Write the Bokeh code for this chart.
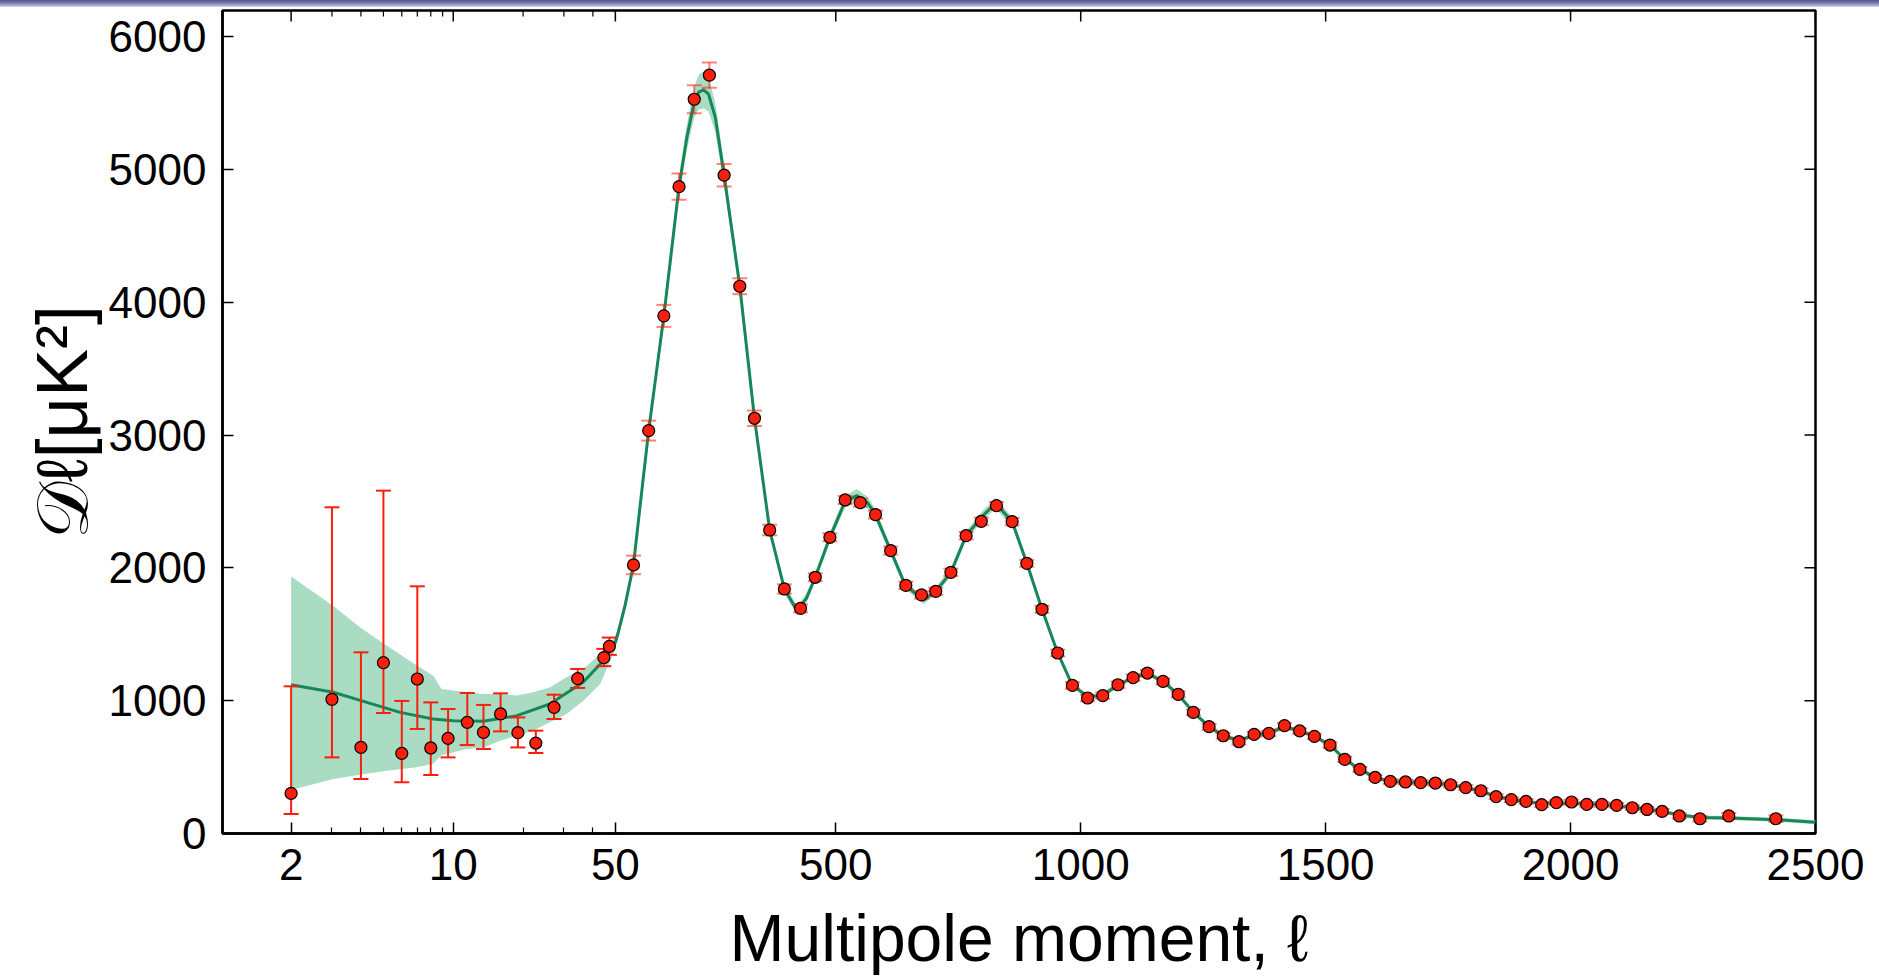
import numpy as np
from bokeh.plotting import figure
from bokeh.models import ColumnDataSource, FixedTicker, Range1d, Div
from bokeh.layouts import column
from bokeh.embed import file_html
from bokeh.resources import INLINE

# ---------------- data ----------------
# low-ell points (log part of the axis), asymmetric error bars
lowl_ell = [2, 3, 4, 5, 6, 7, 8, 9.5, 11.5, 13.5, 16, 19, 22.7, 27.2, 34.4, 44.6, 47.1]
lowl_D = [302, 1010, 648, 1286, 603, 1163, 644, 716, 837, 761, 900, 759, 681, 950, 1166, 1324, 1409]
lowl_up = [1108, 2456, 1364, 2581, 998, 1861, 987, 937, 1058, 968, 1055, 874, 774, 1045, 1239, 1390, 1475]
lowl_dn = [147, 573, 410, 907, 385, 787, 440, 573, 666, 636, 769, 648, 606, 862, 1096, 1260, 1345]

# high-ell binned points (linear part of the axis), symmetric errors
hl_ell = [87, 118, 149, 180, 211, 242, 272, 304, 334, 365, 395, 428, 458, 488, 519, 550, 581, 612,
          643, 675, 704, 735, 766, 797, 828, 860, 890, 921, 953, 983, 1014, 1045, 1076, 1107, 1136,
          1168, 1199, 1230, 1262, 1291, 1323, 1354, 1384, 1416, 1447, 1477, 1509, 1539, 1570, 1601,
          1632, 1663, 1694, 1724, 1755, 1786, 1817, 1848, 1879, 1909, 1941, 1971, 2002, 2033, 2064,
          2094, 2126, 2156, 2187, 2222, 2264, 2323, 2419]
hl_D = [2022, 3033, 3897, 4870, 5528, 5709, 4956, 4120, 3126, 2285, 1841, 1695, 1929, 2230, 2511, 2491,
        2401, 2130, 1868, 1796, 1823, 1966, 2242, 2350, 2468, 2348, 2034, 1688, 1359, 1115, 1020, 1038,
        1120, 1173, 1208, 1145, 1047, 912, 804, 736, 691, 746, 754, 812, 772, 731, 666, 558, 483, 422,
        392, 388, 383, 380, 367, 345, 322, 277, 255, 242, 217, 232, 237, 219, 219, 212, 194, 181, 166,
        132, 111, 132, 111]
hl_err = [70, 75, 83, 98, 105, 95, 85, 60, 58, 40, 35, 30, 30, 30, 30, 30, 30, 30,
          28, 28, 28, 28, 28, 28, 28, 28, 26, 26, 25, 25, 24, 24, 24, 24, 24,
          22, 22, 22, 22, 22, 22, 20, 20, 20, 20, 20, 20, 20, 18, 18,
          18, 18, 18, 18, 18, 18, 18, 18, 18, 18, 18, 18, 18, 18, 18,
          18, 18, 18, 18, 20, 20, 22, 24]

# best-fit theory curve
th_ell = [2, 3.04, 4.24, 5.9, 8.2, 10, 13.5, 18.8, 26.1, 36.3, 44.4, 50, 56, 70, 87, 100, 118, 149, 180,
          196, 211, 220, 230, 240, 254, 272, 304, 334, 365, 395, 421, 440, 458, 488, 519, 543, 565, 581,
          612, 642, 679, 704, 735, 766, 797, 826, 860, 890, 921, 953, 983, 1017, 1045, 1076, 1106, 1136,
          1168, 1199, 1230, 1262, 1291, 1323, 1354, 1384, 1416, 1447, 1477, 1509, 1539, 1570, 1601, 1632,
          1663, 1694, 1724, 1755, 1786, 1817, 1848, 1879, 1909, 1940, 1971, 2002, 2033, 2064, 2094, 2125,
          2156, 2187, 2222, 2264, 2323, 2419, 2500]
th_D = [1120, 1063, 987, 912, 862, 849, 845, 887, 975, 1138, 1301, 1440, 1516, 1720, 2022, 2450, 3033,
        3897, 4870, 5242, 5505, 5581, 5599, 5568, 5392, 4956, 4120, 3126, 2285, 1841, 1678, 1770, 1929,
        2230, 2500, 2544, 2490, 2401, 2130, 1868, 1758, 1823, 1966, 2242, 2380, 2486, 2348, 2034, 1688,
        1359, 1115, 1025, 1045, 1115, 1175, 1205, 1145, 1047, 912, 804, 736, 700, 740, 760, 800, 775, 731,
        666, 558, 483, 422, 392, 388, 383, 378, 367, 345, 318, 280, 255, 240, 228, 228, 230, 222, 216, 208,
        196, 182, 165, 140, 121, 117, 104, 84]
# half width of the shaded (cosmic-variance) band around the theory curve, for ell > 50
th_hw = [0, 0, 0, 0, 0, 0, 0, 0, 0, 0, 0, 0, 45, 45, 45, 50, 55, 65, 80,
         95, 115, 130, 140, 130, 110, 85, 65, 50, 40, 35, 35, 35, 35, 38, 45, 50, 45, 40,
         35, 30, 30, 30, 32, 35, 38, 40, 35, 30, 25, 22, 20, 18, 18, 18, 18, 18,
         18, 18, 18, 18, 18, 18, 18, 18, 18, 16, 16, 16, 15, 15, 15, 15,
         15, 15, 15, 15, 15, 15, 15, 15, 15, 15, 15, 15, 15, 15, 15, 15,
         15, 15, 15, 15, 15, 15, 15]

# shaded band at low ell
band_ell = [2, 3.04, 3.96, 5, 6.97, 8.2, 8.9, 11.43, 13.5, 15.9, 18.8, 22.1, 26.1, 30.8, 36.4, 43, 50]
band_hi = [1934, 1713, 1553, 1430, 1265, 1188, 1088, 1063, 1050, 1050, 1038, 1063, 1100, 1176, 1239, 1352, 1477]
band_lo = [328, 410, 443, 468, 498, 525, 590, 636, 648, 699, 736, 774, 837, 900, 1000, 1126, 1389]

x_major = [2, 10, 50, 500, 1000, 1500, 2000, 2500]
x_major_labels = ["2", "10", "50", "500", "1000", "1500", "2000", "2500"]
x_minor = [3, 4, 5, 6, 7, 8, 9, 20, 30, 40]
y_major = [0, 1000, 2000, 3000, 4000, 5000, 6000]

# ---------------- hybrid axis: log below ell=50, linear above ----------------
SPLIT = 50.0
DECADE = 473.5  # linear-axis units spanned by one decade of the log part


def xpos(ell):
    ell = np.asarray(ell, dtype=float)
    return np.where(ell >= SPLIT, ell, SPLIT + np.log10(ell / SPLIT) * DECADE)


RED = "#f8200c"
GREEN = "#17875a"
BAND = "#a9dcc2"
FONT = "Liberation Sans"
MAJ_TICK, MIN_TICK = 11, 6

W, H_STRIP = 1879, 7
H = 978 - H_STRIP

X0, X1, Y0, Y1 = -752, 2500, 0, 6196
p = figure(width=W, height=H, output_backend="svg", toolbar_location=None,
           x_range=Range1d(X0, X1), y_range=Range1d(Y0, Y1),
           min_border_left=222, min_border_right=64, min_border_top=3, min_border_bottom=145)
p.grid.visible = False
p.outline_line_color = "black"
p.outline_line_width = 2.5
p.background_fill_color = "white"
p.border_fill_color = "white"

# band
th_x = xpos(th_ell)
hi_mask = np.asarray(th_ell) > SPLIT
bx = np.concatenate([xpos(band_ell), th_x[hi_mask]])
blo = np.concatenate([band_lo, (np.asarray(th_D) - np.asarray(th_hw))[hi_mask]])
bhi = np.concatenate([band_hi, (np.asarray(th_D) + np.asarray(th_hw))[hi_mask]])
p.varea(x=bx, y1=blo, y2=bhi, fill_color=BAND, fill_alpha=1.0)

# theory line
p.line(th_x, th_D, line_color=GREEN, line_width=3)

# error bars (bars + caps), drawn as glyphs so that they sit above the band and below the points
low_src = ColumnDataSource(dict(x=xpos(lowl_ell), y=lowl_D, up=lowl_up, dn=lowl_dn))
hl_src = ColumnDataSource(dict(x=xpos(hl_ell), y=hl_D,
                               up=np.asarray(hl_D) + np.asarray(hl_err),
                               dn=np.asarray(hl_D) - np.asarray(hl_err)))
for src, alpha in ((low_src, 1.0), (hl_src, 0.55)):
    p.segment(x0="x", y0="dn", x1="x", y1="up", source=src, line_color=RED, line_width=2, line_alpha=alpha)
    for end in ("up", "dn"):
        p.scatter(x="x", y=end, source=src, marker="dash", size=15, line_color=RED,
                  line_width=2, line_alpha=alpha)

# points
p.scatter("x", "y", source=low_src, size=12, fill_color=RED, line_color="black", line_width=1.2)
p.scatter("x", "y", source=hl_src, size=12, fill_color=RED, line_color="black", line_width=1.2)

# axes
xmaj = [float(v) for v in xpos(x_major)]
xmin = [float(v) for v in xpos(x_minor)]


def style_axis(ax, ticker):
    ax.ticker = ticker
    ax.axis_line_color = "black"
    ax.axis_line_width = 2.5
    ax.major_tick_in = MAJ_TICK
    ax.major_tick_out = 0
    ax.minor_tick_in = MIN_TICK
    ax.minor_tick_out = 0
    ax.major_tick_line_width = 1.5
    ax.minor_tick_line_width = 1.2
    ax.major_tick_line_color = "black"
    ax.minor_tick_line_color = "black"
    ax.major_label_text_font = FONT
    ax.major_label_text_font_size = "44px"
    ax.major_label_text_color = "black"
    ax.axis_label_text_font = FONT
    ax.axis_label_text_font_style = "normal"
    ax.axis_label_text_color = "black"


xa = p.xaxis[0]
style_axis(xa, FixedTicker(ticks=xmaj, minor_ticks=xmin))
xa.major_label_overrides = {v: t for v, t in zip(xmaj, x_major_labels)}
xa.major_label_standoff = 15
xa.axis_label = "Multipole moment, ℓ"
xa.axis_label_text_font_size = "66px"
xa.axis_label_text_line_height = 0.8
xa.axis_label_standoff = 18

ya = p.yaxis[0]
style_axis(ya, FixedTicker(ticks=y_major, minor_ticks=[]))
ya.major_label_standoff = 16
ya.axis_label = "𝒟ℓ[μK²]"
ya.axis_label_text_font_size = "72px"
ya.axis_label_standoff = 4

# mirrored inward ticks on the top and right edges of the frame (clipped to the frame)
p.scatter(x=xmaj, y=[Y1] * len(xmaj), marker="dash", angle=np.pi / 2, size=2 * MAJ_TICK,
          line_color="black", line_width=1.5)
p.scatter(x=xmin, y=[Y1] * len(xmin), marker="dash", angle=np.pi / 2, size=2 * MIN_TICK,
          line_color="black", line_width=1.2)
p.scatter(x=[X1] * len(y_major), y=y_major, marker="dash", size=2 * MAJ_TICK,
          line_color="black", line_width=1.5)

strip = Div(text="", width=W, height=H_STRIP, margin=0,
            styles={"background": "linear-gradient(#4d5288, #8d92c4 60%, #d4d6ee)"})

layout = column(strip, p, spacing=0)
open("out.html", "w").write(file_html(layout, INLINE))
